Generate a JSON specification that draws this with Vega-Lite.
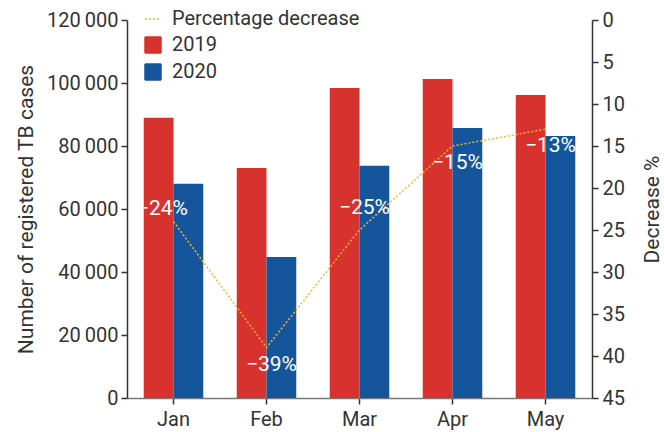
{
  "$schema": "https://vega.github.io/schema/vega-lite/v6.json",
  "width": 465,
  "height": 378,
  "autosize": {"type": "none"},
  "padding": {"left": 127, "top": 20, "right": 72, "bottom": 34},
  "background": "white",
  "config": {
    "font": "Roboto",
    "view": {"stroke": null},
    "axis": {"labelFont": "Roboto", "titleFont": "Roboto", "labelColor": "#333333", "titleColor": "#333333", "labelFontSize": 20, "titleFontSize": 21, "titleFontWeight": "normal", "grid": false, "tickColor": "#333333", "domainColor": "#333333", "tickSize": 6, "domainWidth": 1.5, "tickWidth": 1.5},
    "legend": {"labelFont": "Roboto", "labelFontSize": 20, "labelColor": "#333333", "labelLimit": 0}
  },
  "datasets": {
    "cases": [
      {"month": "Jan", "year": "2019", "cases": 89000},
      {"month": "Jan", "year": "2020", "cases": 68000},
      {"month": "Feb", "year": "2019", "cases": 73000},
      {"month": "Feb", "year": "2020", "cases": 44800},
      {"month": "Mar", "year": "2019", "cases": 98400},
      {"month": "Mar", "year": "2020", "cases": 73700},
      {"month": "Apr", "year": "2019", "cases": 101300},
      {"month": "Apr", "year": "2020", "cases": 85700},
      {"month": "May", "year": "2019", "cases": 96200},
      {"month": "May", "year": "2020", "cases": 83200}
    ],
    "decrease": [
      {"month": "Jan", "decrease": 24, "label": "−24%"},
      {"month": "Feb", "decrease": 39, "label": "−39%"},
      {"month": "Mar", "decrease": 25, "label": "−25%"},
      {"month": "Apr", "decrease": 15, "label": "−15%"},
      {"month": "May", "decrease": 13, "label": "−13%"}
    ]
  },
  "encoding": {
    "x": {
      "field": "month", "type": "nominal", "sort": ["Jan", "Feb", "Mar", "Apr", "May"],
      "scale": {"paddingInner": 0.36, "paddingOuter": 0.18},
      "axis": {"title": null, "labelAngle": 0, "labelPadding": 5, "domainColor": "#777777"}
    }
  },
  "layer": [
    {
      "data": {"name": "cases"},
      "mark": {"type": "bar"},
      "encoding": {
        "xOffset": {"field": "year", "type": "nominal", "sort": ["2019", "2020"], "scale": {"paddingInner": 0, "paddingOuter": 0}},
        "y": {
          "field": "cases", "type": "quantitative",
          "scale": {"domain": [0, 120000], "nice": false},
          "axis": {
            "title": "Number of registered TB cases",
            "values": [0, 20000, 40000, 60000, 80000, 100000, 120000],
            "labelExpr": "datum.value == 0 ? '0' : replace(format(datum.value, ','), ',', '\u2009')",
            "labelPadding": 3,
            "titlePadding": 10
          }
        },
        "color": {
          "field": "year", "type": "nominal",
          "scale": {"domain": ["Percentage decrease", "2019", "2020"], "range": ["#f7b52a", "#d7322d", "#14559c"]},
          "legend": {
            "title": null,
            "orient": "none",
            "legendX": 16,
            "legendY": -11,
            "symbolSize": 256,
            "rowPadding": 5,
            "labelOffset": 9,
            "symbolType": "square",
            "encode": {
              "symbols": {
                "update": {
                  "shape": {"signal": "datum.value === 'Percentage decrease' ? 'stroke' : 'square'"},
                  "fill": {"signal": "datum.value === 'Percentage decrease' ? 'transparent' : scale('color', datum.value)"},
                  "stroke": {"signal": "datum.value === 'Percentage decrease' ? '#f7b52a' : 'transparent'"},
                  "strokeDash": {"signal": "datum.value === 'Percentage decrease' ? [2, 2] : [1, 0]"},
                  "strokeWidth": {"value": 1.5},
                  "opacity": {"value": 1}
                }
              }
            }
          }
        }
      }
    },
    {
      "data": {"name": "decrease"},
      "encoding": {
        "y": {
          "field": "decrease", "type": "quantitative",
          "scale": {"domain": [0, 45], "reverse": true, "nice": false},
          "axis": {
            "orient": "right",
            "title": "Decrease %",
            "titleAngle": -90,
            "values": [0, 5, 10, 15, 20, 25, 30, 35, 40, 45],
            "labelPadding": 4,
            "titlePadding": 38
          }
        }
      },
      "layer": [
        {
          "mark": {"type": "line", "strokeDash": [2, 2], "strokeWidth": 1.5},
          "encoding": {"color": {"datum": "Percentage decrease"}}
        },
        {
          "transform": [{"filter": "datum.month == 'Jan'"}],
          "mark": {"type": "text", "color": "white", "fontSize": 21, "dx": -11, "dy": -13},
          "encoding": {"text": {"field": "label"}}
        },
        {
          "transform": [{"filter": "datum.month == 'Mar'"}],
          "mark": {"type": "text", "color": "white", "fontSize": 21, "dx": 5, "dy": -22},
          "encoding": {"text": {"field": "label"}}
        },
        {
          "transform": [{"filter": "datum.month != 'Jan' && datum.month != 'Mar'"}],
          "mark": {"type": "text", "color": "white", "fontSize": 21, "dx": 5, "dy": 17},
          "encoding": {"text": {"field": "label"}}
        }
      ]
    }
  ],
  "resolve": {"scale": {"y": "independent"}}
}
